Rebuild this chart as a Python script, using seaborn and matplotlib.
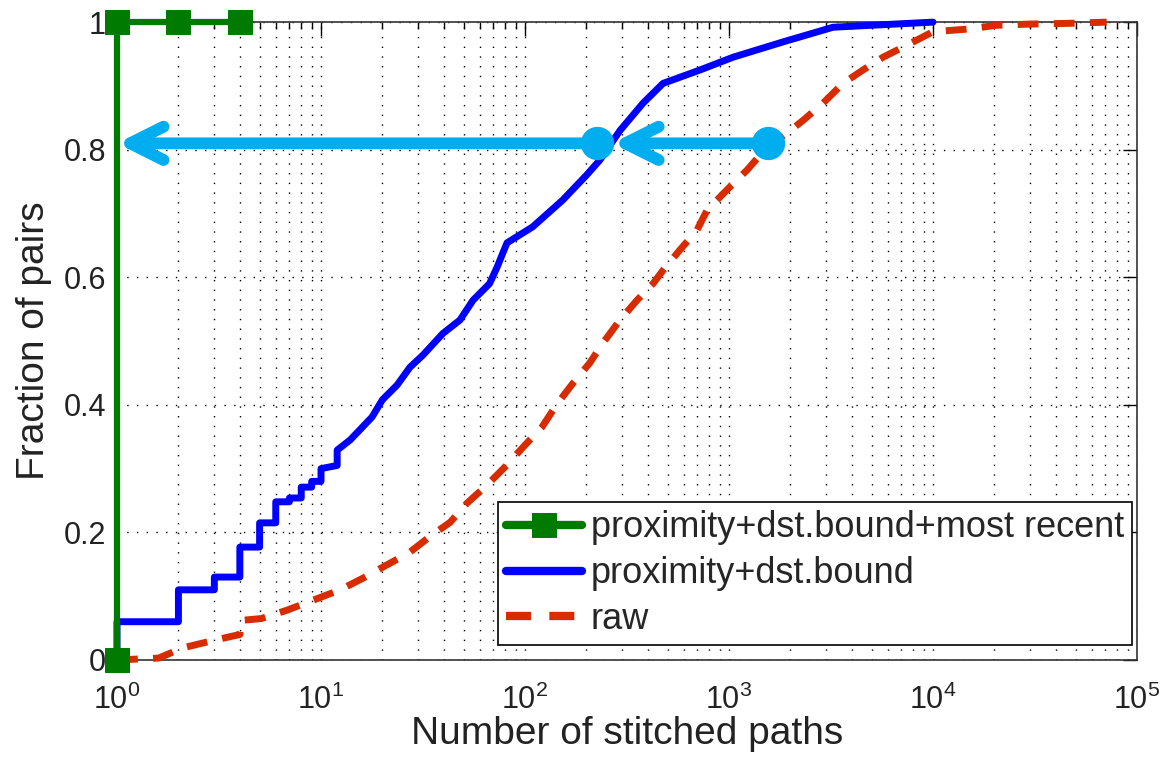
import numpy as np
import pandas as pd
import matplotlib
matplotlib.use("Agg")
import matplotlib.pyplot as plt
import seaborn as sns
from matplotlib.ticker import LogLocator

sns.set_theme(style="white")
plt.rcParams['font.family'] = ['Liberation Sans', 'DejaVu Sans']
plt.rcParams['mathtext.fontset'] = 'custom'
plt.rcParams['mathtext.rm'] = 'Liberation Sans'
plt.rcParams['mathtext.it'] = 'Liberation Sans'
plt.rcParams['mathtext.default'] = 'regular'

# ---- Data ----
green_x = [1, 1, 2, 4]
green_y = [0.0, 1.0, 1.0, 1.0]

blue_x = [1, 1, 2, 2, 3, 3, 4, 4, 5, 5, 6, 6, 7, 7, 8, 8, 9, 9, 10, 10,
          12, 12, 13.9, 17.8, 20, 23.6, 27.3, 31.6, 39.6, 48, 55.6, 67, 73, 81.6,
          109, 153, 200, 233, 292, 379, 475, 721, 1047, 1840, 3235, 10000]
blue_y = [0.0, 0.06, 0.06, 0.11, 0.11, 0.13, 0.13, 0.177, 0.177, 0.215, 0.215, 0.248,
          0.248, 0.254, 0.254, 0.271, 0.271, 0.28, 0.28, 0.30,
          0.305, 0.329, 0.345, 0.381, 0.408, 0.431, 0.459, 0.478, 0.512, 0.533, 0.564,
          0.59, 0.616, 0.654, 0.679, 0.721, 0.76, 0.784, 0.83, 0.873, 0.904, 0.925,
          0.945, 0.969, 0.992, 1.0]

red_x = [1, 1.6, 2.1, 3, 4, 4.05, 5.1, 6.8, 9.2, 12.4, 16, 21, 27, 34, 43, 52, 65, 80,
         100, 121, 144, 172, 208, 241, 292, 354, 424, 475, 575, 697, 780, 977, 1225,
         1535, 1923, 2307, 2890, 3622, 4539, 5689, 7464, 10000, 14680, 20500, 29900,
         45000, 71000]
red_y = [0.0, 0.003, 0.019, 0.031, 0.04, 0.062, 0.065, 0.078, 0.094, 0.11, 0.128, 0.149,
         0.168, 0.193, 0.216, 0.246, 0.274, 0.303, 0.337, 0.365, 0.402, 0.434, 0.466,
         0.497, 0.533, 0.564, 0.59, 0.611, 0.643, 0.674, 0.705, 0.737, 0.768, 0.804,
         0.826, 0.846, 0.873, 0.904, 0.925, 0.945, 0.964, 0.985, 0.989, 0.995, 0.997,
         0.998, 1.0]

arrow_y = 0.81
arrow_x_start = 1550
arrow_x_mid = 225
arrow_x_end = 1

labels = ["proximity+dst.bound+most recent", "proximity+dst.bound", "raw"]

fig = plt.figure(figsize=(11.62, 7.63), dpi=100)
ax = fig.add_axes([0.1007, 0.135, 0.8778, 0.836])

df_g = pd.DataFrame({"x": green_x, "y": green_y})
df_b = pd.DataFrame({"x": blue_x, "y": blue_y})
df_r = pd.DataFrame({"x": red_x, "y": red_y})

sns.lineplot(data=df_g, x="x", y="y", ax=ax, color="#007a00", lw=4.5, marker="s",
             markersize=17, markeredgecolor="#007a00", sort=False, estimator=None,
             label=labels[0], zorder=5, clip_on=False)
sns.lineplot(data=df_b, x="x", y="y", ax=ax, color="#0000ff", lw=5, sort=False,
             estimator=None, label=labels[1], zorder=4, clip_on=False)
sns.lineplot(data=df_r, x="x", y="y", ax=ax, color="#d92b00", lw=5, sort=False,
             estimator=None, label=labels[2], zorder=3, clip_on=False)
ax.lines[-1].set_dashes([3, 2.2])

cyan = "#00aeef"
aprops = dict(arrowstyle="->,head_length=1.2,head_width=0.6", color=cyan,
              lw=8.5, shrinkA=0, shrinkB=0, mutation_scale=20, capstyle="round")
ax.annotate("", xy=(arrow_x_end, arrow_y), xytext=(arrow_x_mid, arrow_y),
            arrowprops=aprops, zorder=6, annotation_clip=False)
aprops2 = dict(aprops)
aprops2["shrinkB"] = 11
ax.annotate("", xy=(arrow_x_mid, arrow_y), xytext=(arrow_x_start, arrow_y),
            arrowprops=aprops2, zorder=6)
ax.plot([arrow_x_mid, arrow_x_start], [arrow_y, arrow_y], 'o', color=cyan,
        markersize=23, zorder=7)

ax.set_xscale("log")
ax.set_xlim(1, 1e5)
ax.set_ylim(0, 1)
ax.set_yticks([0, 0.2, 0.4, 0.6, 0.8, 1.0])
ax.set_yticklabels(["0", "0.2", "0.4", "0.6", "0.8", "1"])
ax.xaxis.set_major_locator(LogLocator(base=10, numticks=10))
ax.xaxis.set_minor_locator(LogLocator(base=10, subs=np.arange(2, 10), numticks=100))

ax.grid(True, which="major", axis="both", color="black", linestyle=(0, (1, 6)), lw=1)
ax.grid(True, which="minor", axis="x", color="black", linestyle=(0, (1, 6)), lw=1)

ax.tick_params(axis="both", which="both", direction="in", top=True, right=True,
               colors="black", labelsize=22)
ax.tick_params(axis="both", which="major", length=10, width=1)
ax.tick_params(axis="x", which="minor", length=5, width=1)
ax.tick_params(axis="x", which="major", pad=18)
ax.tick_params(axis="y", which="major", pad=8)
for lab in ax.get_xticklabels() + ax.get_yticklabels():
    lab.set_color("#222222")
for s in ax.spines.values():
    s.set_color("#333333")
    s.set_linewidth(1.2)

ax.set_xlabel("Number of stitched paths", fontsize=28, color="#222222", labelpad=0)
ax.set_ylabel("Fraction of pairs", fontsize=28, color="#222222", labelpad=8)

leg = ax.legend(loc="lower right", fontsize=26, frameon=True, fancybox=False,
                edgecolor="black", handlelength=2.1, borderpad=0.22, labelspacing=0.3,
                handletextpad=0.25, borderaxespad=0, bbox_to_anchor=(0.995, 0.0235))
leg.get_frame().set_linewidth(1.2)
leg.get_frame().set_alpha(1)
for h in leg.legend_handles:
    h.set_linewidth(6)

fig.savefig("out.png", dpi=100)
